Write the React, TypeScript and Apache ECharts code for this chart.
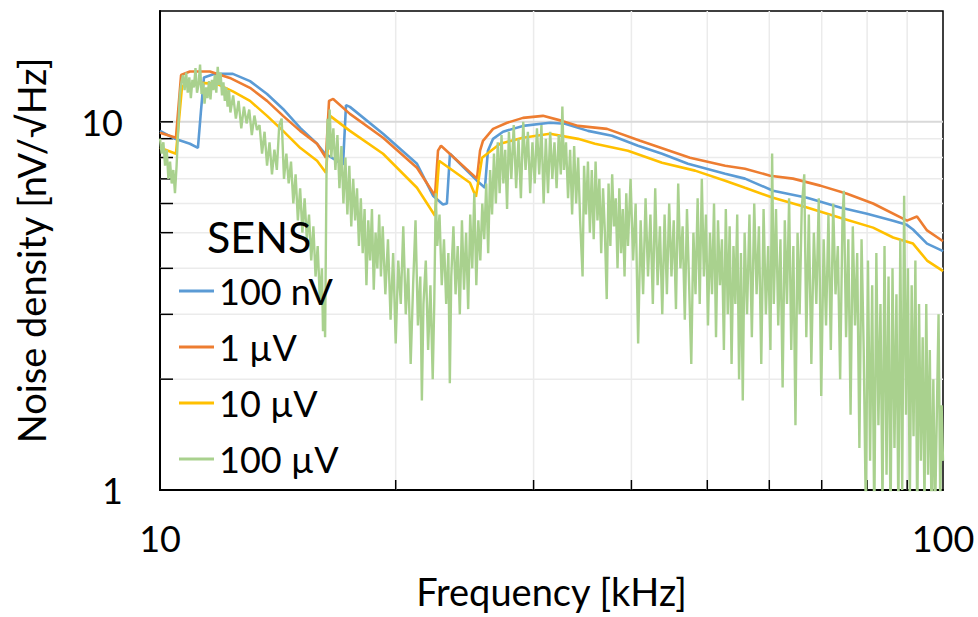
import React, { useEffect, useRef } from 'react';
import * as echarts from 'echarts';

const FONT = 'Lato, "Open Sans", sans-serif';

const X_MIN = 10;
const X_MAX = 100;
const Y_MIN = 1;
const Y_MAX = 20;
const X_MINOR = [20, 30, 40, 50, 60, 70, 80, 90];
const Y_MINOR = [2, 3, 4, 5, 6, 7, 8, 9];
const Y_MAJOR = [10];

const SERIES_NAMES = ['100 nV', '1 µV', '10 µV', '100 µV'];
const COLORS = ['#5B9BD5', '#ED7D31', '#FFC000', '#A9D18E'];

// [frequency kHz, noise density nV/√Hz]
const S_100NV = [
  [10.0, 9.45], [10.45, 8.99], [10.92, 8.72], [11.18, 8.5], [11.28, 10.7], [11.38, 13.2], [11.75, 13.5],
  [12.39, 13.5], [13.03, 12.9], [13.7, 11.9], [14.36, 10.84], [15.1, 9.63], [15.87, 8.72], [16.25, 8.19],
  [16.73, 7.89], [17.13, 7.65], [17.28, 11.1], [17.48, 10.98], [19.27, 9.28], [21.29, 7.69], [22.32, 6.3],
  [22.98, 5.96], [23.25, 6.0], [23.46, 8.19], [25.4, 6.92], [26.0, 6.62], [26.23, 8.35], [26.63, 8.99],
  [27.42, 9.4], [29.08, 9.75], [31.48, 9.94], [32.91, 9.88], [35.21, 9.45], [37.78, 9.17], [40.78, 8.61],
  [43.77, 8.19], [47.24, 7.69], [52.7, 7.23], [55.86, 7.01], [60.67, 6.5], [67.05, 6.22], [73.89, 5.85],
  [79.98, 5.63], [86.35, 5.39], [89.9, 5.25], [91.56, 5.1], [95.41, 4.67], [99.7, 4.47], [100, 4.45],
];

const S_1UV = [
  [10.0, 9.34], [10.48, 9.05], [10.64, 13.4], [10.92, 13.7], [11.58, 13.7], [12.28, 13.16], [13.03, 12.37],
  [13.7, 11.4], [14.36, 10.38], [15.1, 9.45], [15.87, 8.72], [16.29, 7.99], [16.44, 11.4], [16.64, 11.54],
  [17.48, 10.51], [19.27, 9.05], [21.29, 7.5], [22.45, 6.3], [22.65, 8.35], [22.85, 8.61], [25.4, 7.01],
  [25.63, 8.35], [25.85, 8.88], [26.63, 9.57], [27.75, 9.94], [29.08, 10.25], [30.84, 10.38], [32.62, 10.06],
  [34.19, 9.75], [37.23, 9.57], [41.04, 8.88], [47.52, 7.99], [52.7, 7.6], [55.86, 7.46], [60.15, 7.14],
  [64.33, 7.01], [69.7, 6.71], [75.42, 6.38], [81.41, 6.0], [89.95, 5.39], [92.64, 5.53], [95.41, 5.07],
  [99.7, 4.76], [100, 4.74],
];

const S_10UV = [
  [10.0, 8.5], [10.48, 8.19], [10.67, 12.5], [11.25, 12.76], [11.82, 12.68], [12.39, 12.1], [13.03, 11.4],
  [13.7, 10.38], [14.36, 9.45], [15.1, 8.5], [15.87, 7.84], [16.29, 7.27], [16.49, 10.38], [17.48, 9.45],
  [19.27, 8.19], [21.29, 6.62], [22.45, 5.56], [22.72, 7.84], [24.88, 6.83], [25.32, 6.26], [25.78, 7.99],
  [27.18, 8.72], [29.08, 9.05], [31.48, 9.28], [34.19, 8.99], [35.94, 8.72], [39.59, 8.35], [43.77, 7.74],
  [48.23, 7.37], [52.7, 6.92], [55.86, 6.62], [60.67, 6.22], [67.05, 5.85], [73.89, 5.49], [81.41, 5.16],
  [86.35, 4.85], [91.56, 4.67], [95.41, 4.2], [99.7, 3.95], [100, 3.93],
];

const S_100UV = [
  [10.0, 9.0], [10.05, 8.2], [10.1, 8.8], [10.15, 7.6], [10.2, 8.4], [10.25, 7.0], [10.3, 7.8], [10.35, 6.8],
  [10.4, 7.4], [10.45, 6.4], [10.5, 7.6], [10.55, 9.5], [10.6, 11.8], [10.65, 12.8], [10.7, 13.4], [10.75, 12.2],
  [10.8, 13.6], [10.85, 12.0], [10.9, 13.2], [10.95, 11.6], [11.0, 13.0], [11.05, 12.4], [11.1, 14.0], [11.15, 12.0],
  [11.2, 12.6], [11.25, 14.3], [11.3, 11.9], [11.35, 12.8], [11.4, 11.2], [11.45, 12.4], [11.5, 11.6], [11.55, 12.9],
  [11.6, 11.5], [11.65, 13.0], [11.7, 12.2], [11.75, 13.4], [11.8, 12.0], [11.85, 14.1], [11.9, 12.6], [11.95, 13.6],
  [12.0, 11.8], [12.05, 12.8], [12.1, 11.4], [12.15, 12.4], [12.2, 11.0], [12.25, 12.2], [12.3, 10.6], [12.4, 11.8],
  [12.5, 10.2], [12.6, 11.4], [12.7, 9.6], [12.8, 11.0], [12.9, 9.9], [13.0, 10.8], [13.1, 9.2], [13.2, 10.4],
  [13.3, 9.5], [13.4, 9.8], [13.5, 8.2], [13.6, 9.4], [13.7, 7.6], [13.8, 8.8], [13.9, 7.2], [14.0, 8.4],
  [14.1, 7.4], [14.2, 9.8], [14.3, 10.2], [14.4, 7.0], [14.5, 8.2], [14.6, 6.8], [14.7, 7.8], [14.8, 6.0],
  [14.9, 7.2], [15.0, 5.4], [15.1, 6.6], [15.2, 5.0], [15.3, 6.2], [15.4, 4.8], [15.5, 5.6], [15.6, 4.2],
  [15.7, 5.2], [15.8, 3.8], [15.9, 4.6], [16.0, 3.3], [16.1, 4.0], [16.15, 2.7], [16.2, 3.4], [16.25, 2.6],
  [16.32, 7.5], [16.37, 10.2], [16.42, 8.4], [16.47, 10.8], [16.55, 8.0], [16.65, 9.6], [16.75, 7.4], [16.85, 9.2],
  [16.95, 6.6], [17.05, 8.6], [17.15, 6.0], [17.25, 8.0], [17.35, 5.6], [17.45, 7.6], [17.55, 5.2], [17.65, 7.0],
  [17.75, 5.4], [17.85, 6.6], [17.95, 4.6], [18.05, 6.2], [18.15, 4.4], [18.25, 5.8], [18.35, 3.6], [18.45, 5.4],
  [18.55, 4.2], [18.65, 5.8], [18.75, 3.5], [18.85, 5.0], [18.95, 4.0], [19.05, 5.6], [19.15, 3.8], [19.25, 5.2],
  [19.4, 3.4], [19.55, 4.8], [19.7, 2.9], [19.85, 4.4], [20.0, 2.5], [20.15, 4.2], [20.3, 3.2], [20.45, 5.2],
  [20.6, 3.0], [20.75, 4.0], [20.9, 2.2], [21.05, 3.6], [21.2, 5.4], [21.35, 2.8], [21.5, 3.8], [21.6, 1.75],
  [21.7, 3.2], [21.85, 4.2], [22.0, 2.4], [22.15, 3.6], [22.3, 2.0], [22.4, 3.2], [22.5, 6.4], [22.6, 4.6],
  [22.75, 5.6], [22.9, 3.6], [23.05, 4.8], [23.2, 3.2], [23.35, 4.4], [23.45, 1.95], [23.55, 3.8], [23.7, 5.2],
  [23.85, 3.4], [24.0, 4.6], [24.15, 3.0], [24.3, 5.4], [24.45, 3.5], [24.6, 5.0], [24.75, 3.1], [24.9, 5.6],
  [25.05, 4.0], [25.2, 6.4], [25.35, 3.6], [25.5, 5.4], [25.65, 4.2], [25.8, 6.0], [25.95, 4.8], [26.1, 6.8],
  [26.25, 4.4], [26.4, 7.4], [26.55, 5.6], [26.7, 8.2], [26.85, 6.0], [27.0, 8.8], [27.15, 6.4], [27.3, 9.2],
  [27.45, 6.8], [27.6, 8.4], [27.75, 5.8], [27.9, 9.4], [28.1, 7.0], [28.3, 9.8], [28.5, 6.6], [28.7, 9.0],
  [28.9, 6.2], [29.1, 10.0], [29.3, 7.4], [29.5, 9.4], [29.7, 6.4], [29.9, 8.8], [30.1, 6.8], [30.3, 9.6],
  [30.5, 7.2], [30.7, 9.8], [30.9, 6.0], [31.1, 9.0], [31.3, 6.4], [31.5, 9.4], [31.7, 7.0], [31.9, 8.8],
  [32.1, 6.6], [32.3, 9.2], [32.5, 7.2], [32.65, 11.0], [32.8, 7.4], [33.0, 8.8], [33.2, 6.2], [33.4, 8.4],
  [33.6, 5.6], [33.8, 8.6], [34.0, 6.0], [34.2, 8.0], [34.4, 5.4], [34.65, 3.8], [34.8, 7.6], [35.0, 5.6],
  [35.2, 7.8], [35.4, 5.0], [35.6, 7.4], [35.8, 4.8], [36.0, 7.8], [36.2, 5.4], [36.4, 7.0], [36.6, 4.4],
  [36.8, 6.6], [37.0, 5.0], [37.2, 3.3], [37.4, 6.8], [37.6, 4.6], [37.8, 7.2], [38.0, 5.2], [38.2, 6.2],
  [38.4, 4.0], [38.6, 6.6], [38.8, 4.4], [39.0, 5.8], [39.2, 3.8], [39.4, 6.4], [39.6, 4.6], [39.9, 7.0],
  [40.2, 4.2], [40.5, 6.0], [40.8, 2.5], [41.1, 5.4], [41.4, 3.4], [41.7, 6.2], [42.0, 3.8], [42.3, 5.6],
  [42.6, 3.2], [42.9, 6.6], [43.2, 3.6], [43.5, 5.2], [43.8, 3.0], [44.1, 5.6], [44.4, 3.4], [44.7, 6.0],
  [45.0, 3.8], [45.3, 5.4], [45.6, 3.1], [45.9, 6.8], [46.2, 4.0], [46.5, 5.2], [46.8, 2.9], [47.1, 5.8],
  [47.4, 3.6], [47.7, 2.2], [48.0, 5.0], [48.3, 3.4], [48.6, 6.2], [48.9, 3.2], [49.2, 7.0], [49.5, 3.8],
  [49.8, 5.6], [50.1, 2.8], [50.4, 5.0], [50.7, 3.4], [51.0, 6.0], [51.3, 2.6], [51.6, 5.4], [51.9, 3.6],
  [52.2, 4.8], [52.5, 2.4], [52.8, 5.8], [53.1, 3.0], [53.4, 5.2], [53.7, 2.2], [54.0, 4.6], [54.3, 3.2],
  [54.6, 5.6], [54.9, 2.0], [55.2, 4.4], [55.5, 1.75], [55.8, 5.0], [56.2, 3.0], [56.6, 5.6], [57.0, 2.6],
  [57.4, 6.0], [57.8, 3.4], [58.2, 5.2], [58.6, 2.2], [59.0, 5.8], [59.4, 3.0], [59.8, 4.6], [60.2, 2.4],
  [60.5, 8.2], [60.8, 3.2], [61.2, 5.8], [61.6, 2.8], [62.0, 4.8], [62.4, 1.9], [62.8, 5.4], [63.2, 3.2],
  [63.6, 6.2], [64.0, 2.4], [64.4, 4.6], [64.8, 1.5], [65.2, 5.0], [65.6, 3.0], [66.0, 5.8], [66.5, 7.2],
  [66.9, 2.6], [67.4, 5.6], [67.9, 2.2], [68.4, 5.0], [68.9, 3.2], [69.4, 6.2], [69.9, 1.8], [70.4, 4.8],
  [70.9, 2.8], [71.4, 5.6], [71.9, 2.4], [72.4, 6.0], [72.9, 3.4], [73.4, 4.6], [73.9, 2.0], [74.4, 5.4],
  [74.7, 6.5], [75.2, 2.6], [75.7, 4.8], [76.2, 1.6], [76.7, 5.2], [77.2, 2.8], [77.7, 4.4], [78.2, 1.3],
  [78.7, 4.8], [79.2, 2.4], [79.7, 0.85], [80.2, 4.2], [80.7, 1.2], [81.2, 3.6], [81.7, 0.8], [82.2, 4.4],
  [82.7, 1.5], [83.2, 3.2], [83.7, 0.9], [84.2, 4.6], [84.7, 1.1], [85.2, 3.8], [85.7, 0.8], [86.2, 4.0],
  [86.7, 1.3], [87.2, 3.4], [87.7, 0.85], [88.2, 4.8], [88.7, 1.0], [89.2, 6.3], [89.7, 1.6], [90.2, 4.0],
  [90.7, 0.9], [91.2, 3.6], [91.7, 1.4], [92.2, 4.2], [92.7, 0.8], [93.2, 3.2], [93.7, 1.2], [94.2, 2.6],
  [94.7, 0.9], [95.2, 3.2], [95.7, 1.1], [96.2, 2.4], [96.7, 0.8], [97.2, 2.0], [97.7, 0.85], [98.2, 1.6],
  [98.7, 3.0], [99.2, 0.9], [99.6, 1.7], [100.0, 1.2],
];

const SERIES_DATA = [S_100NV, S_1UV, S_10UV, S_100UV];

const isDecade = (v: number) => Math.abs(Math.log10(v) - Math.round(Math.log10(v))) < 1e-6;

export default function App() {
  const ref = useRef<HTMLDivElement>(null);
  useEffect(() => {
    if (!ref.current) return;
    const chart = echarts.init(ref.current, null, { renderer: 'svg' });
    const option: any = {
      animation: false,
      backgroundColor: '#ffffff',
      textStyle: { fontFamily: FONT },
      grid: {
        left: 160, right: 35, top: 11, bottom: 127,
        show: true, borderColor: '#000', borderWidth: 1.5, backgroundColor: 'transparent',
      },
      title: {
        text: 'SENS', left: 207, top: 215, padding: 0,
        textStyle: { fontFamily: FONT, fontSize: 43, fontWeight: 'normal', color: '#000' },
      },
      legend: {
        data: SERIES_NAMES, orient: 'vertical', left: 179, top: 271, padding: 0,
        itemWidth: 35, itemHeight: 3, itemGap: 16, icon: 'rect', selectedMode: false,
        textStyle: { fontFamily: FONT, fontSize: 36, color: '#000', lineHeight: 40 },
      },
      xAxis: {
        type: 'log', logBase: 10, min: X_MIN, max: X_MAX,
        name: 'Frequency [kHz]', nameLocation: 'middle', nameGap: 82,
        nameTextStyle: { fontFamily: FONT, fontSize: 38, color: '#000' },
        axisLine: { show: true, lineStyle: { color: '#000', width: 2 } },
        axisTick: { show: false },
        splitLine: { show: false },
        axisLabel: {
          fontFamily: FONT, fontSize: 36, color: '#000', margin: 30,
          formatter: (v: number) => (isDecade(v) ? String(Math.round(v)) : ''),
        },
      },
      yAxis: {
        type: 'log', logBase: 10, min: Y_MIN, max: Y_MAX,
        name: 'Noise density [nV/√Hz]', nameLocation: 'middle', nameGap: 110,
        nameTextStyle: { fontFamily: FONT, fontSize: 38, color: '#000' },
        axisLine: { show: true, lineStyle: { color: '#000', width: 2 } },
        axisTick: { show: false },
        splitLine: { show: false },
        axisLabel: {
          fontFamily: FONT, fontSize: 36, color: '#000', margin: 37,
          formatter: (v: number) => (isDecade(v) && v <= 10 ? String(Math.round(v)) : ''),
        },
      },
      series: [
        {
          name: 'vgrid', type: 'custom', z: 1, silent: true,
          data: X_MINOR.map((v) => [v, Y_MIN]),
          renderItem: (_p: any, api: any) => {
            const v = api.value(0);
            const b = api.coord([v, Y_MIN]);
            const t = api.coord([v, Y_MAX]);
            return {
              type: 'group',
              children: [
                { type: 'line', shape: { x1: b[0], y1: b[1], x2: t[0], y2: t[1] }, style: { stroke: '#ebebeb', lineWidth: 1.5 } },
                { type: 'line', shape: { x1: b[0], y1: b[1], x2: b[0], y2: b[1] - 10 }, style: { stroke: '#000', lineWidth: 1.5 } },
              ],
            };
          },
        },
        {
          name: 'hgrid', type: 'custom', z: 1, silent: true,
          data: [...Y_MINOR, ...Y_MAJOR].map((v) => [X_MIN, v]),
          renderItem: (_p: any, api: any) => {
            const v = api.value(1);
            const l = api.coord([X_MIN, v]);
            const r = api.coord([X_MAX, v]);
            const major = v >= 10;
            return {
              type: 'group',
              children: [
                { type: 'line', shape: { x1: l[0], y1: l[1], x2: r[0], y2: r[1] }, style: { stroke: major ? '#d9d9d9' : '#ebebeb', lineWidth: major ? 2 : 1.5 } },
                { type: 'line', shape: { x1: l[0], y1: l[1], x2: l[0] + 13, y2: l[1] }, style: { stroke: '#000', lineWidth: 1.5 } },
              ],
            };
          },
        },
        ...SERIES_NAMES.map((name, i) => ({
          name, type: 'line', data: SERIES_DATA[i], showSymbol: false, symbol: 'none', z: 3, clip: true,
          lineStyle: { color: COLORS[i], width: i === 3 ? 2.4 : 2.6 },
          itemStyle: { color: COLORS[i] },
        })),
      ],
    };
    chart.setOption(option);
    return () => chart.dispose();
  }, []);
  return <div ref={ref} style={{ position: 'fixed', left: 0, top: 0, width: 978, height: 617, background: '#fff' }} />;
}
